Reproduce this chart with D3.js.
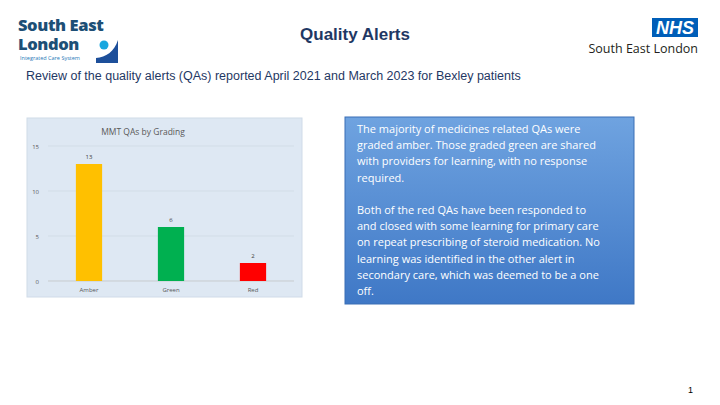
<!DOCTYPE html>
<html><head><meta charset="utf-8">
<script src="https://d3js.org/d3.v7.min.js"></script>
<style>body{margin:0;background:#fff}svg{display:block}</style>
</head><body>
<script>
var categories = ["Amber", "Green", "Red"];
var values = [13, 6, 2];
var colors = ["#FFC000", "#00B050", "#FF0000"];
var yTicks = [0, 5, 10, 15];
var boxLines = ["The majority of medicines related QAs were", "graded amber. Those graded green are shared",
  "with providers for learning, with no response", "required.", "",
  "Both of the red QAs have been responded to", "and closed with some learning for primary care",
  "on repeat prescribing of steroid medication. No", "learning was identified in the other alert in",
  "secondary care, which was deemed to be a one", "off."];

var svg = d3.select("body").append("svg").attr("width", 720).attr("height", 405);

// logo left
svg.append("text").attr("x", 18).attr("y", 31).attr("font-family", "Open Sans").attr("font-weight", 800)
  .attr("font-size", 16.5).attr("letter-spacing", -0.4).attr("fill", "#1d4f76").text("South East");
svg.append("text").attr("x", 18).attr("y", 50).attr("font-family", "Open Sans").attr("font-weight", 800)
  .attr("font-size", 16.5).attr("letter-spacing", -0.4).attr("fill", "#1d4f76").text("London");
svg.append("text").attr("x", 20).attr("y", 60).attr("font-family", "Open Sans")
  .attr("font-size", 5.5).attr("fill", "#2a7ab8").text("Integrated Care System");
svg.append("circle").attr("cx", 104).attr("cy", 45).attr("r", 4.5).attr("fill", "#19a7df");
svg.append("path").attr("d", "M96,63 L118,63 L118,40 C114,52 106,57 96,58 Z").attr("fill", "#1d4f9a");

// NHS logo
svg.append("rect").attr("x", 652).attr("y", 18).attr("width", 46).attr("height", 19).attr("fill", "#005EB8");
svg.append("text").attr("x", 675).attr("y", 34).attr("text-anchor", "middle").attr("font-family", "Liberation Sans")
  .attr("font-weight", "bold").attr("font-style", "italic").attr("font-size", 18).attr("fill", "#fff").text("NHS");
svg.append("text").attr("x", 698).attr("y", 53).attr("text-anchor", "end").attr("font-family", "Open Sans")
  .attr("font-size", 12.5).attr("fill", "#231f20").text("South East London");

svg.append("text").attr("x", 355).attr("y", 40).attr("text-anchor", "middle").attr("font-family", "Liberation Sans")
  .attr("font-weight", "bold").attr("font-size", 17).attr("fill", "#1f3864").text("Quality Alerts");
svg.append("text").attr("x", 26).attr("y", 80).attr("font-family", "Liberation Sans")
  .attr("font-size", 12.5).attr("fill", "#1f3864").text("Review of the quality alerts (QAs) reported April 2021 and March 2023 for Bexley patients");

// chart
svg.append("rect").attr("x", 27).attr("y", 118).attr("width", 275).attr("height", 179)
  .attr("fill", "#dee8f3").attr("stroke", "#d0dbe8");
svg.append("text").attr("x", 143).attr("y", 135).attr("text-anchor", "middle").attr("font-family", "Open Sans")
  .attr("font-size", 8.5).attr("fill", "#595959").text("MMT QAs by Grading");

var x = d3.scaleBand().domain(categories).range([48, 294]).paddingInner(0.68).paddingOuter(0.34);
var y = d3.scaleLinear().domain([0, 15]).range([281, 146]);

var g = svg.append("g");
g.selectAll(".grid").data(yTicks).enter().append("line")
  .attr("x1", 48).attr("x2", 294).attr("y1", d => y(d)).attr("y2", d => y(d))
  .attr("stroke", d => d === 0 ? "#bfbfbf" : "#cfd8e2").attr("stroke-width", 0.7);
g.selectAll(".yt").data(yTicks).enter().append("text")
  .attr("x", 39).attr("y", d => y(d) + 2.5).attr("text-anchor", "end")
  .attr("font-family", "Open Sans").attr("font-size", 6).attr("fill", "#595959").text(d => d);
g.selectAll(".bar").data(values).enter().append("rect")
  .attr("x", (d, i) => x(categories[i])).attr("width", x.bandwidth())
  .attr("y", d => y(d)).attr("height", d => y(0) - y(d)).attr("fill", (d, i) => colors[i]);
g.selectAll(".vl").data(values).enter().append("text")
  .attr("x", (d, i) => x(categories[i]) + x.bandwidth() / 2).attr("y", d => y(d) - 5)
  .attr("text-anchor", "middle").attr("font-family", "Open Sans").attr("font-size", 6).attr("fill", "#404040").text(d => d);
g.selectAll(".xl").data(categories).enter().append("text")
  .attr("x", d => x(d) + x.bandwidth() / 2).attr("y", 292)
  .attr("text-anchor", "middle").attr("font-family", "Open Sans").attr("font-size", 6).attr("fill", "#595959").text(d => d);

// text box
var grad = svg.append("defs").append("linearGradient").attr("id", "bg").attr("x1", 0).attr("y1", 0).attr("x2", 0).attr("y2", 1);
grad.append("stop").attr("offset", 0).attr("stop-color", "#6fa3e0");
grad.append("stop").attr("offset", 1).attr("stop-color", "#3f78c6");
svg.append("rect").attr("x", 345).attr("y", 117).attr("width", 289).attr("height", 187)
  .attr("fill", "url(#bg)").attr("stroke", "#3a6fb5");
svg.selectAll(".bl").data(boxLines).enter().append("text")
  .attr("x", 357).attr("y", (d, i) => 133 + i * 16.2)
  .attr("font-family", "Open Sans").attr("font-size", 11).attr("fill", "#fff").text(d => d);

svg.append("text").attr("x", 693).attr("y", 393).attr("text-anchor", "end").attr("font-family", "Liberation Sans")
  .attr("font-size", 9).attr("fill", "#000").text("1");
</script>
</body></html>
